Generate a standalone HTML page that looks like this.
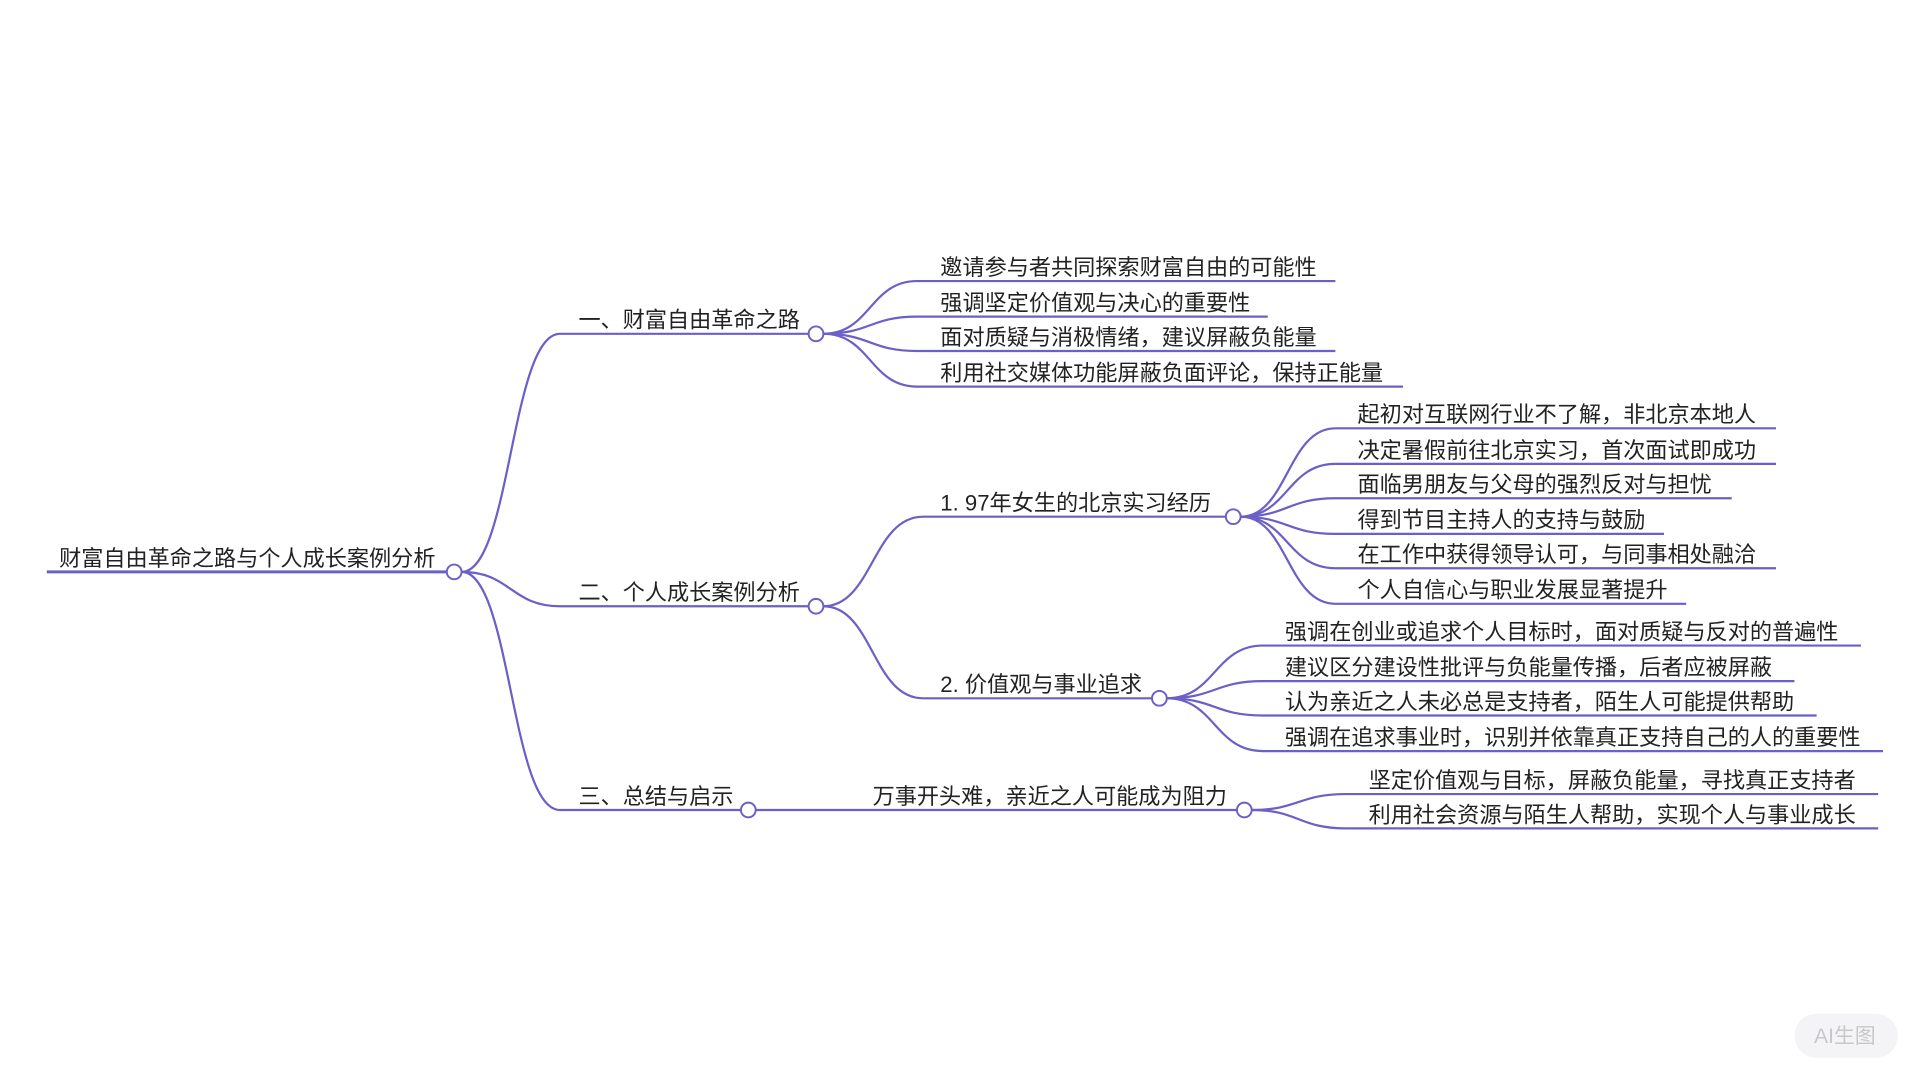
<!DOCTYPE html>
<html><head><meta charset="utf-8"><style>
html,body{margin:0;padding:0;background:#fff;width:1920px;height:1080px;overflow:hidden}
svg{display:block}
text{font-family:"Liberation Sans","Noto Sans CJK SC",sans-serif;font-size:18px;fill:#222}
.l{stroke:#6b5fc8;stroke-width:1.8;fill:none}
.c{stroke:#6b5fc8;stroke-width:1.6;fill:#fff}
</style></head><body>
<svg width="1920" height="1080" viewBox="0 0 1560 880" preserveAspectRatio="none" xmlns="http://www.w3.org/2000/svg">
<!-- root -->
<path class="l" d="M38,466 H363" style="stroke-width:2.4"/>
<text x="48" y="461">财富自由革命之路与个人成长案例分析</text>
<!-- root curves -->
<path class="l" d="M375,466 C415,466 415,272 455,272 H657"/>
<path class="l" d="M375,466 C415,466 415,494 455,494 H657"/>
<path class="l" d="M375,466 C415,466 415,660 455,660 H602"/>
<text x="470" y="267">一、财富自由革命之路</text>
<text x="470" y="489">二、个人成长案例分析</text>
<text x="470" y="655">三、总结与启示</text>
<!-- branch 1 children -->
<path class="l" d="M669,272 C707,272 707,229 745,229 H1085"/>
<path class="l" d="M669,272 C707,272 707,258 745,258 H1030"/>
<path class="l" d="M669,272 C707,272 707,286 745,286 H1085"/>
<path class="l" d="M669,272 C707,272 707,315 745,315 H1140"/>
<text x="764" y="224">邀请参与者共同探索财富自由的可能性</text>
<text x="764" y="253">强调坚定价值观与决心的重要性</text>
<text x="764" y="281">面对质疑与消极情绪，建议屏蔽负能量</text>
<text x="764" y="310">利用社交媒体功能屏蔽负面评论，保持正能量</text>
<!-- branch 2 children -->
<path class="l" d="M669,494 C709,494 709,421 750,421 H996"/>
<path class="l" d="M669,494 C709,494 709,569 750,569 H936"/>
<text x="764" y="416">1. 97年女生的北京实习经历</text>
<text x="764" y="564">2. 价值观与事业追求</text>
<!-- sub 1 -->
<path class="l" d="M1008,421 C1046,421 1046,349 1085,349 H1443"/>
<path class="l" d="M1008,421 C1046,421 1046,378 1085,378 H1443"/>
<path class="l" d="M1008,421 C1046,421 1046,406 1085,406 H1407"/>
<path class="l" d="M1008,421 C1046,421 1046,435 1085,435 H1352"/>
<path class="l" d="M1008,421 C1046,421 1046,463 1085,463 H1443"/>
<path class="l" d="M1008,421 C1046,421 1046,492 1085,492 H1370"/>
<text x="1103" y="344">起初对互联网行业不了解，非北京本地人</text>
<text x="1103" y="373">决定暑假前往北京实习，首次面试即成功</text>
<text x="1103" y="401">面临男朋友与父母的强烈反对与担忧</text>
<text x="1103" y="430">得到节目主持人的支持与鼓励</text>
<text x="1103" y="458">在工作中获得领导认可，与同事相处融洽</text>
<text x="1103" y="487">个人自信心与职业发展显著提升</text>
<!-- sub 2 -->
<path class="l" d="M948,569 C987,569 987,526 1026,526 H1512"/>
<path class="l" d="M948,569 C987,569 987,555 1026,555 H1458"/>
<path class="l" d="M948,569 C987,569 987,583 1026,583 H1476"/>
<path class="l" d="M948,569 C987,569 987,612 1026,612 H1530"/>
<text x="1044" y="521">强调在创业或追求个人目标时，面对质疑与反对的普遍性</text>
<text x="1044" y="550">建议区分建设性批评与负能量传播，后者应被屏蔽</text>
<text x="1044" y="578">认为亲近之人未必总是支持者，陌生人可能提供帮助</text>
<text x="1044" y="607">强调在追求事业时，识别并依靠真正支持自己的人的重要性</text>
<!-- branch 3 -->
<path class="l" d="M614,660 H1005"/>
<text x="709" y="655">万事开头难，亲近之人可能成为阻力</text>
<path class="l" d="M1017,660 C1055,660 1055,647 1094,647 H1526"/>
<path class="l" d="M1017,660 C1055,660 1055,675 1094,675 H1526"/>
<text x="1112" y="642">坚定价值观与目标，屏蔽负能量，寻找真正支持者</text>
<text x="1112" y="670">利用社会资源与陌生人帮助，实现个人与事业成长</text>
<!-- circles -->
<circle class="c" cx="369" cy="466" r="6"/>
<circle class="c" cx="663" cy="272" r="6"/>
<circle class="c" cx="663" cy="494" r="6"/>
<circle class="c" cx="608" cy="660" r="6"/>
<circle class="c" cx="1002" cy="421" r="6"/>
<circle class="c" cx="942" cy="569" r="6"/>
<circle class="c" cx="1011" cy="660" r="6"/>
<!-- watermark -->
<rect x="1458" y="826" width="84" height="36" rx="18" fill="#f4f4f6"/>
<text x="1499" y="850" text-anchor="middle" style="fill:#c8c8cc;font-size:17px">AI生图</text>
</svg>
</body></html>
